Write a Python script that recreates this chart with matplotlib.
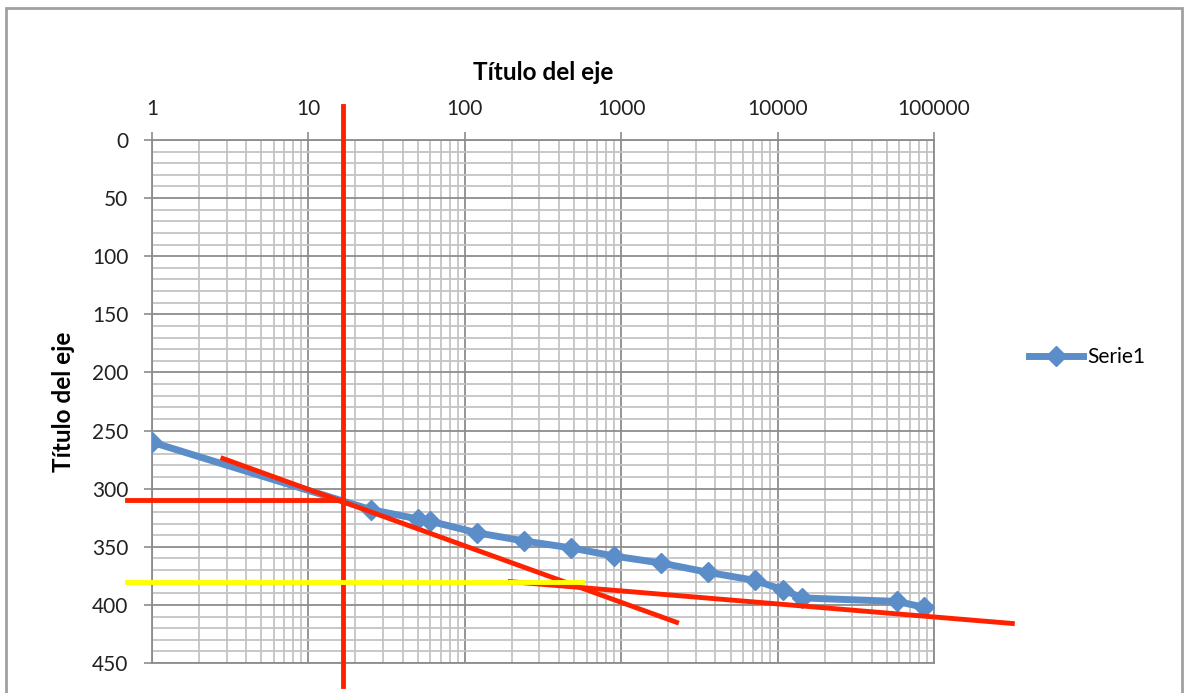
import matplotlib.pyplot as plt
from matplotlib.ticker import FixedLocator, LogLocator, NullFormatter, FuncFormatter
from matplotlib.patches import Rectangle

# measured series
tiempo = [1, 25, 50, 60, 120, 240, 480, 900, 1800, 3600, 7200, 10800, 14400, 57600, 86400]
valor = [260, 318, 326, 328, 338, 345, 351, 358, 364, 372, 379, 387, 394, 397, 402]

# hand-drawn construction lines (x, y pairs)
vertical_x = [16.6, 16.6]
vertical_y = [-29, 470]
horiz_x = [0.69, 16.6]
horiz_y = [310, 310]
tangente1_x = [2.84, 2260]
tangente1_y = [274, 415]
tangente2_x = [195, 317000]
tangente2_y = [380, 416]
amarilla_x = [0.69, 560]
amarilla_y = [380, 380]

x_ticks = [1, 10, 100, 1000, 10000, 100000]
y_ticks = [0, 50, 100, 150, 200, 250, 300, 350, 400, 450]

plt.rcParams['font.family'] = ['Lato', 'DejaVu Sans']

fig = plt.figure(figsize=(11.86, 6.93), dpi=100)
ax = fig.add_axes([152 / 1186, 1 - 663 / 693, (934 - 152) / 1186, (663 - 140) / 693])

blue = '#5B8DC9'
red = '#FF2200'

ax.plot(tiempo, valor, color=blue, lw=5, marker='D', markersize=10,
        label='Serie1', zorder=3)

ax.set_xscale('log')
ax.set_xlim(1, 100000)
ax.set_ylim(450, 0)

ax.xaxis.tick_top()
ax.xaxis.set_label_position('top')
ax.xaxis.set_major_locator(FixedLocator(x_ticks))
ax.xaxis.set_major_formatter(FuncFormatter(lambda v, p: f'{int(round(v))}'))
ax.xaxis.set_minor_locator(LogLocator(base=10, subs=range(2, 10), numticks=20))
ax.xaxis.set_minor_formatter(NullFormatter())
ax.yaxis.set_major_locator(FixedLocator(y_ticks))
ax.yaxis.set_minor_locator(FixedLocator(range(0, 451, 10)))

ax.tick_params(axis='both', which='major', length=6, width=1.2, color='#8C8C8C',
               labelsize=15, labelcolor='#222222')
ax.tick_params(axis='x', which='major', pad=9)
ax.tick_params(axis='y', which='major', pad=11)
ax.tick_params(axis='both', which='minor', length=0)

ax.grid(True, which='major', color='#8C8C8C', lw=1.3)
ax.grid(True, which='minor', color='#C4C4C4', lw=1.3)
ax.set_axisbelow(True)
for s in ax.spines.values():
    s.set_color('#8C8C8C')
    s.set_linewidth(1.3)

ax.set_xlabel('Título del eje', fontsize=17.5, fontweight='bold', labelpad=14)
ax.set_ylabel('Título del eje', fontsize=17.5, fontweight='bold', labelpad=12)

# construction lines drawn over the chart, running past the axes
ax.plot(vertical_x, vertical_y, color=red, lw=3.5, clip_on=False, zorder=4)
ax.plot(horiz_x, horiz_y, color=red, lw=3.5, clip_on=False, zorder=4)
ax.plot(tangente1_x, tangente1_y, color=red, lw=3.5, clip_on=False, zorder=4)
ax.plot(tangente2_x, tangente2_y, color=red, lw=3.5, clip_on=False, zorder=4)
ax.plot(amarilla_x, amarilla_y, color='#FFFF00', lw=3.5, clip_on=False, zorder=5)

fig.legend(handles=ax.get_lines()[:1], loc='center left',
           bbox_to_anchor=(1010 / 1186, 1 - 357 / 693), frameon=False,
           fontsize=15, handlelength=2.6, handletextpad=0.2)

# chart area border
fig.patches.append(Rectangle((6 / 1186, -0.05), 1176 / 1186, 1.05 - 8 / 693,
                             transform=fig.transFigure, fill=False,
                             edgecolor='#A0A0A0', lw=2))

fig.savefig('out.png', dpi=100)
